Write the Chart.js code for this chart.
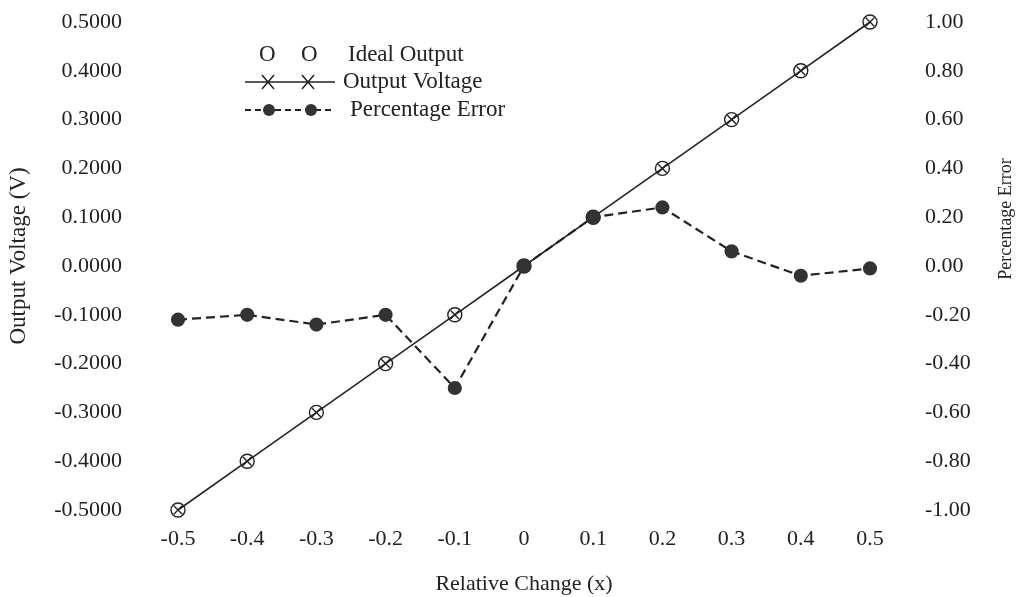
<!DOCTYPE html>
<html>
<head>
<meta charset="utf-8">
<script src="https://cdn.jsdelivr.net/npm/chart.js@4.4.0/dist/chart.umd.min.js"></script>
<style>
  html, body { margin: 0; padding: 0; background: #fff; }
  #wrap { width: 1025px; height: 597px; position: relative; }
</style>
</head>
<body>
<div id="wrap"><canvas id="myChart" width="1025" height="597"></canvas></div>
<script>
// relative change (x axis)
const relChange = [-0.5, -0.4, -0.3, -0.2, -0.1, 0, 0.1, 0.2, 0.3, 0.4, 0.5];
// left axis series (V)
const idealOutput = [-0.5, -0.4, -0.3, -0.2, -0.1, 0, 0.1, 0.2, 0.3, 0.4, 0.5];
const outputVoltage = [-0.5, -0.4, -0.3, -0.2, -0.1, 0, 0.1, 0.2, 0.3, 0.4, 0.5];
// right axis series
const percentError = [-0.22, -0.20, -0.24, -0.20, -0.50, 0.00, 0.20, 0.24, 0.06, -0.04, -0.01];

const xTicks = [-0.5, -0.4, -0.3, -0.2, -0.1, 0, 0.1, 0.2, 0.3, 0.4, 0.5];
const leftTicks = [-0.5, -0.4, -0.3, -0.2, -0.1, 0, 0.1, 0.2, 0.3, 0.4, 0.5];
const rightTicks = [-1, -0.8, -0.6, -0.4, -0.2, 0, 0.2, 0.4, 0.6, 0.8, 1];

const serif = "'Liberation Serif', 'DejaVu Serif', serif";
const ink = '#222';

function pts(ys) {
    return relChange.map((x, i) => ({ x: x, y: ys[i] }));
}

// legend + y axis titles drawn by hand, to sit where the original has them
const extras = {
    id: 'extras',
    afterDraw(chart) {
        const c = chart.ctx;
        c.save();
        c.fillStyle = ink;
        c.strokeStyle = ink;
        c.font = '23px ' + serif;
        c.textBaseline = 'middle';
        c.textAlign = 'left';

        // row 1: ideal output
        c.fillText('O', 259, 55);
        c.fillText('O', 301, 55);
        c.fillText('Ideal Output', 348, 55);

        // row 2: output voltage
        c.lineWidth = 1.5;
        c.beginPath();
        c.moveTo(245, 82); c.lineTo(335, 82);
        c.stroke();
        [268, 308].forEach(function (cx) {
            c.beginPath();
            c.moveTo(cx - 6, 75); c.lineTo(cx + 6, 89);
            c.moveTo(cx + 6, 75); c.lineTo(cx - 6, 89);
            c.stroke();
        });
        c.fillText('Output Voltage', 343, 82);

        // row 3: percentage error
        c.lineWidth = 2;
        c.setLineDash([6, 4]);
        c.beginPath();
        c.moveTo(245, 110); c.lineTo(335, 110);
        c.stroke();
        c.setLineDash([]);
        c.fillStyle = '#333';
        [269, 311].forEach(function (cx) {
            c.beginPath();
            c.arc(cx, 110, 6, 0, Math.PI * 2);
            c.fill();
        });
        c.fillStyle = ink;
        c.fillText('Percentage Error', 350, 110);

        c.textAlign = 'center';
        // left axis title
        c.save();
        c.font = '23px ' + serif;
        c.translate(19, 256);
        c.rotate(-Math.PI / 2);
        c.fillText('Output Voltage (V)', 0, 0);
        c.restore();

        // right axis title, reads bottom to top
        c.font = '18px ' + serif;
        c.translate(1006, 219);
        c.rotate(-Math.PI / 2);
        c.fillText('Percentage Error', 0, 0);
        c.restore();
    }
};

let ctx = document.getElementById('myChart').getContext('2d');
let testChart = new Chart(ctx, {
    type: 'scatter',
    data: {
        datasets: [
            {
                label: 'Output Voltage',
                data: pts(outputVoltage),
                yAxisID: 'y',
                showLine: true,
                borderColor: ink,
                borderWidth: 1.6,
                pointStyle: 'crossRot',
                pointRadius: 6,
                pointBorderWidth: 1.4,
                pointBorderColor: ink,
                clip: false,
                order: 3
            },
            {
                label: 'Ideal Output',
                data: pts(idealOutput),
                yAxisID: 'y',
                showLine: false,
                pointStyle: 'circle',
                pointRadius: 7,
                pointBorderWidth: 1.4,
                pointBorderColor: ink,
                pointBackgroundColor: 'rgba(0,0,0,0)',
                clip: false,
                order: 2
            },
            {
                label: 'Percentage Error',
                data: pts(percentError),
                yAxisID: 'y1',
                showLine: true,
                borderColor: ink,
                borderWidth: 2.2,
                borderDash: [9, 5],
                pointStyle: 'circle',
                pointRadius: 6,
                pointBackgroundColor: '#333',
                pointBorderColor: '#333',
                clip: false,
                order: 1
            }
        ]
    },
    options: {
        responsive: false,
        animation: false,
        layout: { padding: { top: 22, left: 0, right: 0, bottom: 0 } },
        plugins: {
            legend: { display: false },
            tooltip: { enabled: false }
        },
        scales: {
            x: {
                type: 'linear',
                min: -0.5,
                max: 0.5,
                grid: { display: false, drawTicks: false },
                border: { display: false },
                afterBuildTicks: s => { s.ticks = xTicks.map(v => ({ value: v })); },
                afterFit: s => { s.height = 87; s.paddingLeft = 0; s.paddingRight = 0; },
                ticks: {
                    padding: 16,
                    color: ink,
                    font: { family: serif, size: 22 },
                    callback: v => (v === 0 ? '0' : v.toFixed(1))
                },
                title: {
                    display: true,
                    text: 'Relative Change (x)',
                    color: ink,
                    font: { family: serif, size: 22 },
                    padding: { top: 0, bottom: 0 }
                }
            },
            y: {
                position: 'left',
                min: -0.5,
                max: 0.5,
                grid: { display: false, drawTicks: false },
                border: { display: false },
                afterBuildTicks: s => { s.ticks = leftTicks.map(v => ({ value: v })); },
                afterFit: s => { s.width = 178; s.paddingTop = 0; s.paddingBottom = 0; },
                ticks: {
                    padding: 56,
                    color: ink,
                    font: { family: serif, size: 22 },
                    callback: v => v.toFixed(4)
                }
            },
            y1: {
                position: 'right',
                min: -1,
                max: 1,
                grid: { display: false, drawTicks: false },
                border: { display: false },
                afterBuildTicks: s => { s.ticks = rightTicks.map(v => ({ value: v })); },
                afterFit: s => { s.width = 155; s.paddingTop = 0; s.paddingBottom = 0; },
                ticks: {
                    padding: 55,
                    color: ink,
                    font: { family: serif, size: 22 },
                    callback: v => v.toFixed(2)
                }
            }
        }
    },
    plugins: [extras]
});
</script>
</body>
</html>
